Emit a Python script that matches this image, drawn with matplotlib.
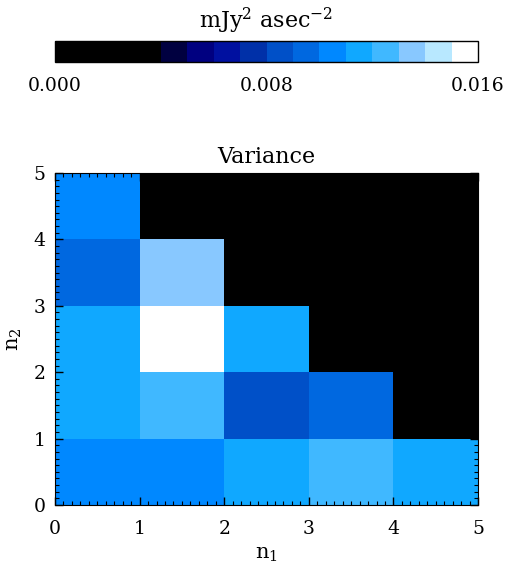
import numpy as np
import matplotlib
matplotlib.use('Agg')
import matplotlib.pyplot as plt
from matplotlib.colors import ListedColormap, BoundaryNorm
from matplotlib.ticker import MultipleLocator

plt.rcParams['font.family'] = ['DejaVu Serif']
plt.rcParams['mathtext.default'] = 'regular'

# colour levels of the bar (16 steps of 0.001)
level_colors = ['#000000', '#000000', '#000000', '#000000',
                '#000040', '#000080', '#0010a0', '#0030a8',
                '#0050c8', '#0068e0', '#0088ff', '#10a8ff',
                '#40b8ff', '#88c8ff', '#b8e8ff', '#ffffff']
bounds = np.linspace(0.0, 0.016, 17)
cbar_ticks = [0.000, 0.008, 0.016]

n1_edges = [0, 1, 2, 3, 4, 5]
n2_edges = [0, 1, 2, 3, 4, 5]

# variance per cell, rows are n2 = 0..4, columns n1 = 0..4
variance = np.array([
    [0.0105, 0.0105, 0.0115, 0.0125, 0.0115],
    [0.0115, 0.0125, 0.0085, 0.0095, 0.0],
    [0.0115, 0.0155, 0.0115, 0.0, 0.0],
    [0.0095, 0.0135, 0.0, 0.0, 0.0],
    [0.0105, 0.0, 0.0, 0.0, 0.0],
])

cmap = ListedColormap(level_colors)
norm = BoundaryNorm(bounds, cmap.N)

fig = plt.figure(figsize=(5.08, 5.66), dpi=100)
ax = fig.add_axes([0.1083, 0.1078, 0.8327, 0.5866])
cax = fig.add_axes([0.1083, 0.8905, 0.8327, 0.0371])

mesh = ax.pcolormesh(n1_edges, n2_edges, variance, cmap=cmap, norm=norm)
ax.set_xlim(0, 5)
ax.set_ylim(0, 5)
ax.xaxis.set_major_locator(MultipleLocator(1))
ax.yaxis.set_major_locator(MultipleLocator(1))
ax.xaxis.set_minor_locator(MultipleLocator(0.1))
ax.yaxis.set_minor_locator(MultipleLocator(0.1))
ax.tick_params(which='both', direction='in', top=True, right=True,
               labelsize=13.5)
ax.tick_params(which='major', length=6, width=1)
ax.tick_params(which='minor', length=3, width=0.8)
ax.tick_params(axis='x', pad=11)
ax.tick_params(axis='y', pad=7)
ax.set_title('Variance', fontsize=16, pad=7)
ax.set_xlabel('n$_1$', fontsize=15, labelpad=5)
ax.set_ylabel('n$_2$', fontsize=15, labelpad=7)

cb = fig.colorbar(mesh, cax=cax, orientation='horizontal', ticks=cbar_ticks,
                  format='%.3f')
cb.ax.minorticks_off()
cb.ax.tick_params(length=0, labelsize=13.5, pad=11)
cb.outline.set_linewidth(1)
cax.set_title('mJy$^2$ asec$^{-2}$', fontsize=16, pad=9)

fig.savefig('out.png', dpi=100)
